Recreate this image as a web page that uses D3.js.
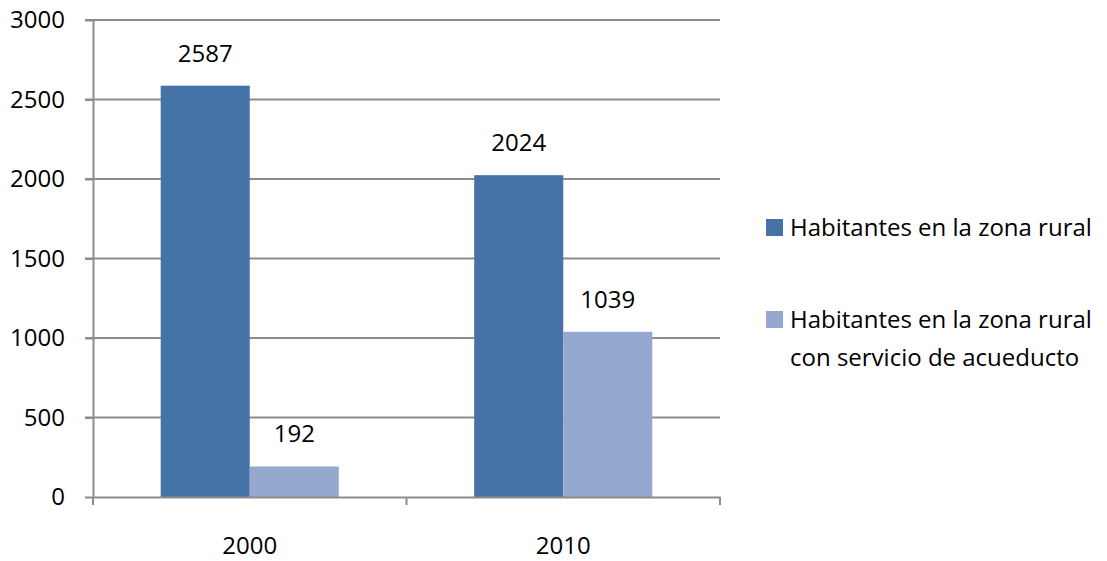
<!DOCTYPE html>
<meta charset="utf-8">
<style>
body { margin: 0; background: #fff; }
svg text { font-family: "Open Sans", "Liberation Sans", sans-serif; fill: #000; }
.grid line { stroke: #8c8c8c; stroke-width: 2; }
.axis path, .axis line { stroke: #8c8c8c; stroke-width: 2; }
</style>
<body>
<svg width="1107" height="561"></svg>
<script src="https://cdnjs.cloudflare.com/ajax/libs/d3/7.8.5/d3.min.js"></script>
<script>

// data
var years = ["2000", "2010"];
var series = ["Habitantes en la zona rural", "Habitantes en la zona rural con servicio de acueducto"];
var rural = [2587, 2024];
var acueducto = [192, 1039];
var yTicks = [0, 500, 1000, 1500, 2000, 2500, 3000];

var colors = ["#4572a7", "#95a9d0"];
var fs = "24px";

var svg = d3.select("svg"),
    margin = {top: 20, right: 387, bottom: 64, left: 93},
    width = svg.attr("width") - margin.left - margin.right,
    height = svg.attr("height") - margin.top - margin.bottom,
    g = svg.append("g").attr("transform", "translate(" + margin.left + "," + margin.top + ")");

var x = d3.scaleBand().domain(years).range([0, width]);
var x1 = d3.scaleBand().domain(series).range([0, x.bandwidth()]).paddingOuter(0.76);
var y = d3.scaleLinear().domain([0, 3000]).range([height, 0]);

var data = years.map(function(yr, i) {
  return {year: yr, values: [rural[i], acueducto[i]]};
});

// gridlines
g.append("g")
    .attr("class", "grid")
    .selectAll("line")
    .data(yTicks.slice(1))
    .enter().append("line")
    .attr("x1", -8)
    .attr("x2", width)
    .attr("y1", function(d) { return y(d); })
    .attr("y2", function(d) { return y(d); });

// bars
var group = g.selectAll(".year")
    .data(data)
    .enter().append("g")
    .attr("class", "year")
    .attr("transform", function(d) { return "translate(" + x(d.year) + ",0)"; });

group.selectAll("rect")
    .data(function(d) { return d.values; })
    .enter().append("rect")
    .attr("x", function(d, i) { return x1(series[i]); })
    .attr("width", x1.bandwidth())
    .attr("y", function(d) { return y(d); })
    .attr("height", function(d) { return height - y(d); })
    .style("fill", function(d, i) { return colors[i]; });

group.selectAll("text")
    .data(function(d) { return d.values; })
    .enter().append("text")
    .attr("x", function(d, i) { return x1(series[i]) + x1.bandwidth() / 2; })
    .attr("y", function(d) { return y(d) - 24; })
    .attr("text-anchor", "middle")
    .style("font-size", fs)
    .text(function(d) { return d; });

// y axis
g.append("g")
    .attr("class", "axis axis--y")
    .call(d3.axisLeft(y).tickValues(yTicks).tickFormat(d3.format("d")).tickSize(8).tickSizeOuter(0).tickPadding(20))
    .selectAll("text")
    .style("font-size", fs);

// x axis: boundary ticks, labels at centres
var xAxis = g.append("g")
    .attr("class", "axis axis--x")
    .attr("transform", "translate(0," + height + ")")
    .call(d3.axisBottom(x).tickSize(0).tickSizeOuter(0).tickPadding(40));
xAxis.selectAll("text").style("font-size", fs);
xAxis.selectAll(".bound")
    .data(d3.range(years.length + 1))
    .enter().append("line")
    .attr("class", "bound")
    .attr("x1", function(i) { return i * x.step(); })
    .attr("x2", function(i) { return i * x.step(); })
    .attr("y1", 0)
    .attr("y2", 8);

// legend
var legend = svg.append("g").attr("transform", "translate(766,0)");
var legendLines = [["Habitantes en la zona rural"], ["Habitantes en la zona rural", "con servicio de acueducto"]];
var legendY = [228, 320];

legendLines.forEach(function(lines, i) {
  legend.append("rect")
      .attr("x", 0)
      .attr("y", legendY[i] - 9)
      .attr("width", 17)
      .attr("height", 17)
      .style("fill", colors[i]);
  lines.forEach(function(t, j) {
    legend.append("text")
        .attr("x", 24)
        .attr("y", legendY[i] + j * 38)
        .attr("dy", "0.35em")
        .style("font-size", fs)
        .text(t);
  });
});

</script>
</body>
